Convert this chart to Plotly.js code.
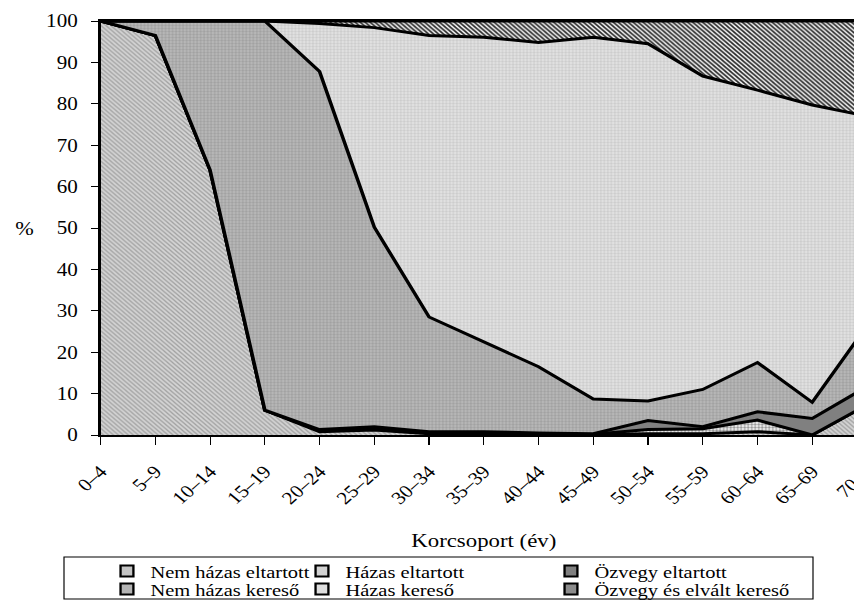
<!DOCTYPE html>
<html>
<head>
<meta charset="utf-8">
<script src="https://cdn.plot.ly/plotly-3.0.1.min.js"></script>
<style>
html, body { margin: 0; padding: 0; overflow: hidden; background: #ffffff; }
#chart { width: 749px; height: 605px; transform: scaleX(1.17); transform-origin: 0 0; }
</style>
</head>
<body>
<div id="chart"></div>
<script>
// Age groups (Korcsoport)
var categories = ['0–4','5–9','10–14','15–19','20–24','25–29','30–34','35–39','40–44','45–49','50–54','55–59','60–64','65–69','70–x'];

// Shares in % (stacked from bottom to top)
var nemHazasEltartott  = [100, 96.5, 64, 6, 0.8, 1.2, 0.3, 0.3, 0.2, 0.1, 0.3, 0.3, 0.8, 0, 7.3];
var hazasEltartott     = [0, 0, 0, 0, 0.3, 0.5, 0.3, 0.3, 0.2, 0.1, 1.0, 1.2, 2.8, 0, 0];
var ozvegyEltartott    = [0, 0, 0, 0, 0.2, 0.3, 0.2, 0.2, 0.1, 0.1, 2.2, 0.5, 2.0, 4.0, 4.4];
var nemHazasKereso     = [0, 3.5, 36, 94, 86.5, 48.2, 27.7, 21.7, 16.0, 8.4, 4.7, 9.0, 11.9, 3.9, 14.7];
var hazasKereso        = [0, 0, 0, 0, 11.6, 48.2, 68.0, 73.6, 78.3, 87.4, 86.3, 75.7, 65.8, 71.8, 50.6];
var ozvegyElvaltKereso = [0, 0, 0, 0, 0.6, 1.6, 3.5, 3.9, 5.2, 3.9, 5.5, 13.3, 16.7, 20.3, 23.0];

var seriesNames = ['Nem házas eltartott', 'Házas eltartott', 'Özvegy eltartott',
                   'Nem házas kereső', 'Házas kereső', 'Özvegy és elvált kereső'];
var yTicks = [0, 10, 20, 30, 40, 50, 60, 70, 80, 90, 100];

var FONT = 'Liberation Serif, Times New Roman, serif';
var W = 749, H = 605, SX = 1.17;
var ML = 86, MR = 8, MT = 21, MB = 170;
var plotW = W - ML - MR, plotH = H - MT - MB;
// reference-pixel -> paper helpers
function pxX(refX) { return (refX / SX - ML) / plotW; }
function pxY(refY) { return (H - MB - refY) / plotH; }

var styles = [
  { pat: { shape: '\\', bgcolor: '#d4d4d4', fgcolor: '#a0a0a0', size: 3, solidity: 0.4 }, legendColor: '#c4c4c4' },
  { pat: { shape: '.', bgcolor: '#f4f4f4', fgcolor: '#999999', size: 3, solidity: 0.5 }, legendColor: '#d2d2d2' },
  { pat: null, solid: '#808080', legendColor: '#808080' },
  { pat: { shape: '.', bgcolor: '#bababa', fgcolor: '#a2a2a2', size: 3, solidity: 0.5 }, legendColor: '#b4b4b4' },
  { pat: { shape: '.', bgcolor: '#e4e4e4', fgcolor: '#cdcdcd', size: 3, solidity: 0.5 }, legendColor: '#dedede' },
  { pat: { shape: '\\', bgcolor: '#f0f0f0', fgcolor: '#282828', size: 3, solidity: 0.5 }, legendColor: '#8c8c8c' }
];
var values = [nemHazasEltartott, hazasEltartott, ozvegyEltartott, nemHazasKereso, hazasKereso, ozvegyElvaltKereso];

var traces = [];
for (var i = 0; i < values.length; i++) {
  var t = {
    type: 'scatter', mode: 'lines', x: categories, y: values[i], name: seriesNames[i],
    stackgroup: 'one', line: { color: '#000000', width: 3, shape: 'linear' },
    showlegend: false, hoverinfo: 'x+y+name'
  };
  if (styles[i].pat) { t.fillpattern = styles[i].pat; t.fillcolor = styles[i].pat.bgcolor; }
  else { t.fillcolor = styles[i].solid; }
  traces.push(t);
}

// legend layout: 3 columns x 2 rows (reference pixel coordinates)
var legendCols = [133, 328, 577];   // marker left edges (ref px)
var legendRows = [571, 589];         // text centre lines (ref px)
var legendDefs = {};
for (var k = 0; k < 6; k++) {
  var col = k % 3, row = Math.floor(k / 3);
  var key = k === 0 ? 'legend' : 'legend' + (k + 1);
  var lx = (legendCols[col] + 1) / SX - 26;
  legendDefs[key] = {
    xref: 'container', yref: 'container', x: lx / W, y: 1 - legendRows[row] / H,
    xanchor: 'left', yanchor: 'middle', bgcolor: 'rgba(0,0,0,0)', borderwidth: 0,
    itemwidth: 30, font: { family: FONT, size: 17.5, color: '#000000' }, itemclick: false, itemdoubleclick: false
  };
  traces.push({
    type: 'scatter', mode: 'markers', x: [null], y: [null], name: seriesNames[k],
    legend: key, showlegend: true, hoverinfo: 'skip',
    marker: { symbol: 'square', size: 11, color: styles[k].legendColor, line: { color: '#000000', width: 2 } }
  });
}

var layout = {
  width: W, height: H,
  margin: { l: ML, r: MR, t: MT, b: MB, pad: 0, autoexpand: false },
  paper_bgcolor: '#ffffff', plot_bgcolor: '#ffffff',
  font: { family: FONT, size: 18, color: '#000000' },
  xaxis: {
    type: 'category', range: [0, categories.length - 1], tickvals: categories, ticktext: categories,
    tickangle: -46, ticks: 'outside', ticklen: 8, tickwidth: 1, tickcolor: '#000000',
    showline: true, linewidth: 2, linecolor: '#000000', mirror: true, showgrid: false, zeroline: false,
    tickfont: { family: FONT, size: 18, color: '#000000' }, ticklabelstandoff: 9,
    title: { text: 'Korcsoport (év)', font: { family: FONT, size: 19.5, color: '#000000' }, standoff: 26 },
    automargin: false
  },
  yaxis: {
    range: [0, 100], tickvals: yTicks, ticks: 'outside', ticklen: 6, tickwidth: 1, tickcolor: '#000000',
    showline: true, linewidth: 2, linecolor: '#000000', showgrid: false, zeroline: false,
    tickfont: { family: FONT, size: 18, color: '#000000' }, ticklabelstandoff: 8, automargin: false
  },
  annotations: [{
    xref: 'paper', yref: 'paper', x: pxX(24), y: pxY(228), xanchor: 'center', yanchor: 'middle',
    text: '%', showarrow: false, font: { family: FONT, size: 19, color: '#000000' }
  }],
  shapes: [{
    type: 'rect', xref: 'paper', yref: 'paper', x0: pxX(64), x1: pxX(813), y0: pxY(557), y1: pxY(599),
    line: { color: '#000000', width: 1 }, fillcolor: 'rgba(0,0,0,0)', layer: 'above'
  }]
};
for (var key2 in legendDefs) layout[key2] = legendDefs[key2];

Plotly.newPlot('chart', traces, layout, { displayModeBar: false, staticPlot: true });
</script>
</body>
</html>
